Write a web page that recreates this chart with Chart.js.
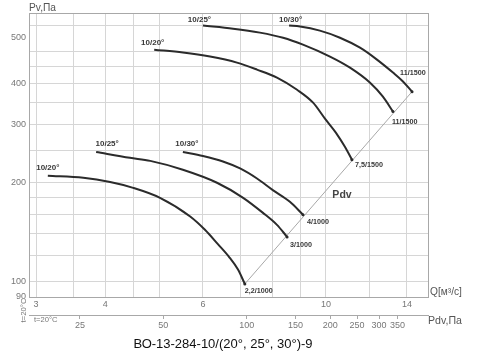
<!DOCTYPE html>
<html lang="ru">
<head>
    <meta charset="UTF-8">
    <title>ВО-13-284-10/(20°, 25°, 30°)-9</title>
    <script src="https://cdn.jsdelivr.net/npm/chart.js"></script>
    <style>
        html, body { margin: 0; padding: 0; background: #fff; }
        canvas { display: block; }
    </style>
</head>
<body>
    <canvas id="fanChart" width="500" height="362"></canvas>

    <script>
        // blade angle (start of curve) and motor kW/rpm (end of curve)
        const curveNames = ['10/20°', '10/25°', '10/30°', '10/20°', '10/25°', '10/30°'];
        const motorNames = ['2,2/1000', '3/1000', '4/1000', '7,5/1500', '11/1500', '11/1500'];

        // Q, m3/s  and  Pv, Pa
        const q20_1000 = [3.15, 3.65, 4.08, 4.49, 5.02, 5.69, 6.05, 6.39, 6.69, 6.94, 7.14];
        const pv20_1000 = [210, 207, 201, 193, 180, 158, 144, 130, 119, 109, 98.6];
        const q25_1000 = [3.85, 4.43, 4.82, 5.52, 6.36, 7.09, 7.70, 8.16, 8.51];
        const pv25_1000 = [248, 238, 233, 219, 200, 180, 162, 149, 137];
        const q30_1000 = [5.52, 6.0, 6.52, 7.0, 7.51, 8.02, 8.61, 9.09];
        const pv30_1000 = [248, 241, 232, 221, 206, 190, 175, 160];
        const q20_1500 = [4.90, 5.52, 6.18, 6.91, 7.51, 8.16, 8.87, 9.48, 9.96, 10.42, 10.82, 11.14];
        const pv20_1500 = [507, 497, 483, 463, 441, 417, 383, 350, 313, 284, 257, 235];
        const q25_1500 = [6.0, 6.80, 7.60, 8.37, 9.09, 10.17, 11.05, 12.0, 12.67, 13.21];
        const pv25_1500 = [600, 587, 571, 551, 525, 483, 447, 403, 365, 329];
        const q30_1500 = [8.58, 8.98, 9.75, 10.6, 11.52, 12.36, 13.21, 13.77, 14.3];
        const pv30_1500 = [600, 596, 579, 551, 514, 473, 432, 406, 378];

        // Pdv line through the curve ends
        const pdvQ = [7.14, 14.3];
        const pdvPv = [98.6, 378];

        // axes
        const qMin = 2.913, qMax = 15.28;
        const pvMin = 90, pvMax = 655;
        const qGrid = [3, 3.5, 4, 4.5, 5, 6, 7, 8, 9, 10, 12, 14];
        const qLabels = [3, 4, 6, 10, 14];
        const pvGrid = [90, 100, 120, 140, 160, 180, 200, 250, 300, 350, 400, 450, 500, 600];
        const pvLabelAt = [90, 100, 200, 300, 400, 550];
        const pvLabelText = ['90', '100', '200', '300', '400', '500'];
        const pdvCoef = 1.93;   // Pdv = pdvCoef * Q^2
        const pdvTicks = [25, 50, 100, 150, 200, 250, 300, 350];

        const qSets = [q20_1000, q25_1000, q30_1000, q20_1500, q25_1500, q30_1500];
        const pvSets = [pv20_1000, pv25_1000, pv30_1000, pv20_1500, pv25_1500, pv30_1500];

        // label offsets in px
        const startDx = [0, 11, 4, -1.5, -3.5, 1.5];
        const startDy = [-8, -8, -8, -7, -6, -6];
        const endOffset = [[0, 7], [3, 8], [4, 7], [3, 5], [-1, 10], [-12, -19]];

        const FONT = '"Liberation Sans", Arial, sans-serif';
        Chart.defaults.font.family = FONT;

        const datasets = qSets.map((qs, i) => ({
            label: curveNames[i],
            data: qs.map((q, j) => ({ x: q, y: pvSets[i][j] })),
            borderColor: '#2b2b2b',
            borderWidth: 2,
            cubicInterpolationMode: 'monotone',
            pointRadius: ctx => ctx.dataIndex === qs.length - 1 ? 1.5 : 0,
            pointBackgroundColor: '#2b2b2b',
            pointBorderWidth: 0,
            fill: false
        }));
        datasets.push({
            label: 'Pdv',
            data: pdvQ.map((q, j) => ({ x: q, y: pdvPv[j] })),
            borderColor: '#a8a8a8',
            borderWidth: 1,
            pointRadius: 0,
            fill: false
        });

        const texts = {
            id: 'texts',
            afterDraw(chart) {
                const { ctx } = chart;
                const sx = chart.scales.x, sy = chart.scales.y;
                ctx.save();
                ctx.textBaseline = 'middle';
                ctx.fillStyle = '#383838';
                qSets.forEach((qs, i) => {
                    const n = qs.length - 1;
                    ctx.font = 'bold 8px ' + FONT;
                    ctx.textAlign = 'center';
                    ctx.fillText(curveNames[i], sx.getPixelForValue(qs[0]) + startDx[i], sy.getPixelForValue(pvSets[i][0]) + startDy[i]);
                    ctx.font = 'bold 7.2px ' + FONT;
                    ctx.textAlign = 'left';
                    ctx.fillText(motorNames[i], sx.getPixelForValue(qs[n]) + endOffset[i][0], sy.getPixelForValue(pvSets[i][n]) + endOffset[i][1]);
                });

                ctx.fillStyle = '#444';
                ctx.font = 'bold 10.5px ' + FONT;
                ctx.textAlign = 'center';
                ctx.fillText('Pdv', 342, 195);

                ctx.fillStyle = '#555';
                ctx.font = '10.2px ' + FONT;
                ctx.textAlign = 'left';
                ctx.fillText('Pv,Па', 29, 8);
                ctx.fillText('Q[м³/с]', 430, 292);
                ctx.font = '10.6px ' + FONT;
                ctx.fillText('Pdv,Па', 428, 321);

                ctx.fillStyle = '#777';
                ctx.font = '7.6px ' + FONT;
                ctx.fillText('t=20°C', 34, 320);
                ctx.save();
                ctx.translate(23.5, 310.5);
                ctx.rotate(-Math.PI / 2);
                ctx.textAlign = 'center';
                ctx.font = '7.8px ' + FONT;
                ctx.fillText('t=20°C', 0, 0);
                ctx.restore();

                ctx.fillStyle = '#111';
                ctx.font = '13px ' + FONT;
                ctx.textAlign = 'center';
                ctx.fillText('ВО-13-284-10/(20°, 25°, 30°)-9', 223, 344);
                ctx.restore();
            }
        };

        new Chart(document.getElementById('fanChart'), {
            type: 'line',
            data: { datasets },
            options: {
                responsive: false,
                animation: false,
                layout: { padding: { top: 13, left: 0, right: 72, bottom: 27 } },
                plugins: { legend: { display: false }, tooltip: { enabled: false } },
                scales: {
                    x: {
                        type: 'logarithmic', position: 'bottom', weight: 0,
                        min: qMin, max: qMax,
                        afterBuildTicks: s => { s.ticks = qGrid.concat([qMax]).map(v => ({ value: v })); },
                        afterFit: s => { s.height = 18; },
                        ticks: {
                            autoSkip: false, maxRotation: 0, padding: 2,
                            color: '#777', font: { size: 9 },
                            callback: v => qLabels.includes(v) ? String(v) : ''
                        },
                        grid: {
                            drawTicks: false,
                            color: c => c.tick && c.tick.value === qMax ? '#a8a8a8' : '#d6d6d6'
                        },
                        border: { color: '#a8a8a8' }
                    },
                    pdv: {
                        type: 'logarithmic', position: 'bottom', weight: 1,
                        min: pdvCoef * qMin * qMin, max: pdvCoef * qMax * qMax,
                        afterBuildTicks: s => { s.ticks = pdvTicks.map(v => ({ value: v })); },
                        afterFit: s => { s.height = 20; },
                        ticks: {
                            autoSkip: false, maxRotation: 0, padding: 1,
                            color: '#777', font: { size: 9 },
                            callback: v => String(v)
                        },
                        grid: { drawOnChartArea: false, drawTicks: true, tickLength: 4, color: '#a8a8a8' },
                        border: { color: '#a8a8a8' }
                    },
                    y: {
                        type: 'logarithmic', position: 'left',
                        min: pvMin, max: pvMax,
                        afterBuildTicks: s => {
                            s.ticks = pvGrid.concat(pvLabelAt.filter(v => !pvGrid.includes(v)), [pvMax])
                                .sort((a, b) => a - b).map(v => ({ value: v }));
                        },
                        afterFit: s => { s.width = 29; },
                        ticks: {
                            autoSkip: false, padding: 3,
                            color: '#777', font: { size: 9 },
                            callback: v => {
                                const k = pvLabelAt.indexOf(v);
                                return k >= 0 ? pvLabelText[k] : '';
                            }
                        },
                        grid: {
                            drawTicks: false,
                            color: c => {
                                if (!c.tick) return '#d6d6d6';
                                if (c.tick.value === pvMax) return '#a8a8a8';
                                return pvGrid.includes(c.tick.value) ? '#d6d6d6' : 'rgba(0,0,0,0)';
                            }
                        },
                        border: { color: '#a8a8a8' }
                    }
                }
            },
            plugins: [texts]
        });
    </script>
</body>
</html>
